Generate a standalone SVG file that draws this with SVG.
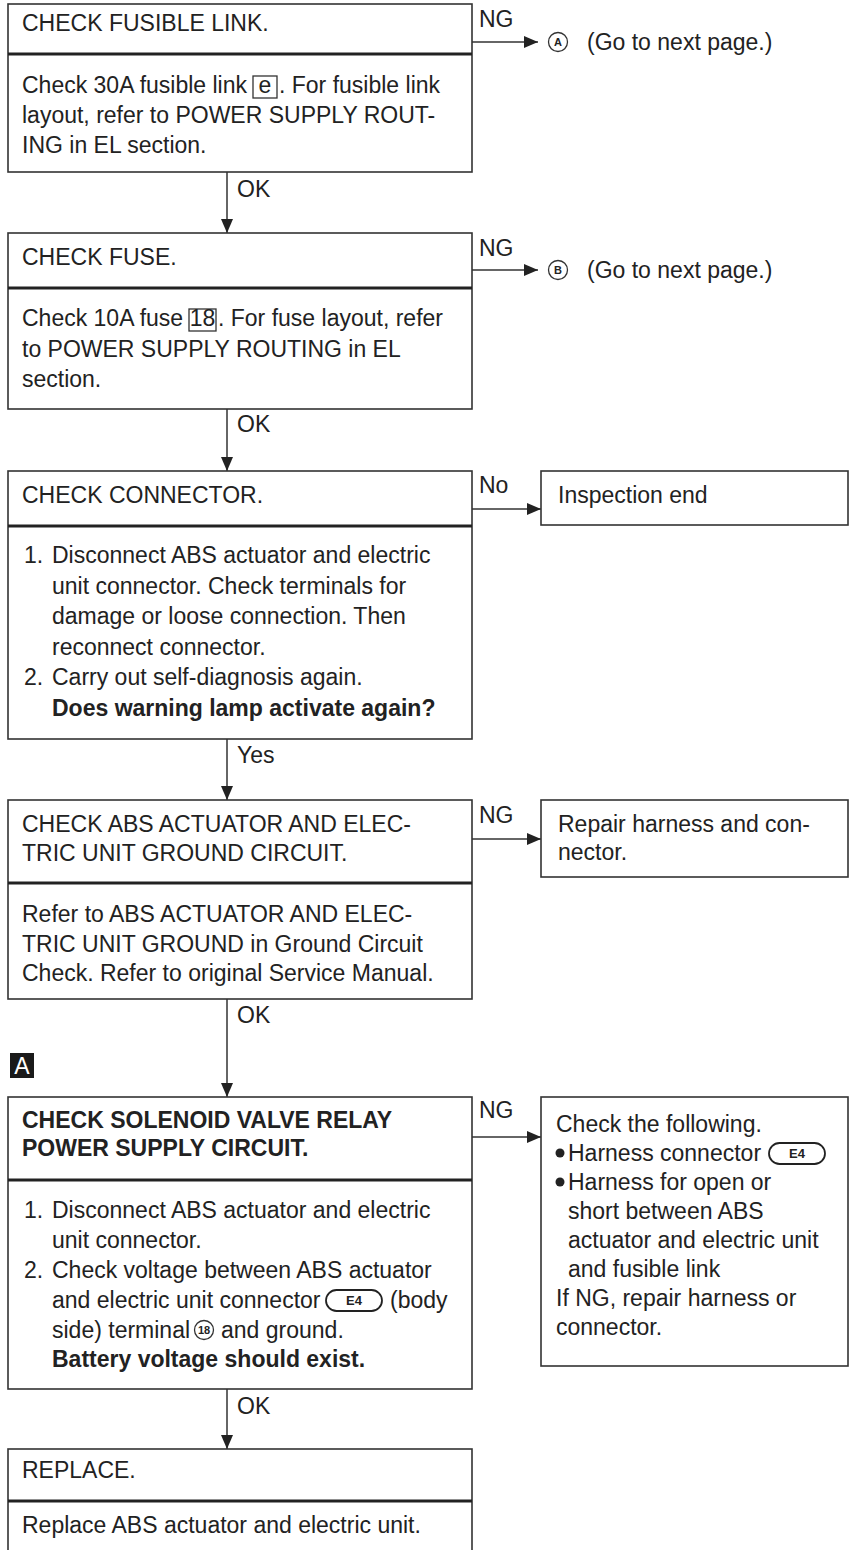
<svg xmlns="http://www.w3.org/2000/svg" width="850" height="1550" viewBox="0 0 850 1550">
<defs>
<style>
text{font-family:"Liberation Sans",Arial,Helvetica,sans-serif;font-size:23px;fill:#222}
.b{font-weight:bold}
.box{fill:#fff;stroke:#333;stroke-width:1.6}
.div{stroke:#222;stroke-width:3}
.ln{stroke:#333;stroke-width:1.5;fill:none}
.thin{fill:none;stroke:#333;stroke-width:1.3}
.pill{fill:none;stroke:#222;stroke-width:1.8}
.sm{font-size:11px;font-weight:bold}
.pl{font-size:13px;font-weight:bold}
.ctr{text-anchor:middle}
</style>
<marker id="ah" markerWidth="14" markerHeight="12" refX="14" refY="6" orient="auto" markerUnits="userSpaceOnUse">
<path d="M0,0 L14,6 L0,12 Z" fill="#222"/>
</marker>
</defs>
<rect width="850" height="1550" fill="#fff"/>

<g id="connectors">
<line class="ln" x1="227" y1="172" x2="227" y2="233" marker-end="url(#ah)"/>
<line class="ln" x1="227" y1="409" x2="227" y2="471" marker-end="url(#ah)"/>
<line class="ln" x1="227" y1="739" x2="227" y2="800" marker-end="url(#ah)"/>
<line class="ln" x1="227" y1="999" x2="227" y2="1097" marker-end="url(#ah)"/>
<line class="ln" x1="227" y1="1389" x2="227" y2="1449" marker-end="url(#ah)"/>
<line class="ln" x1="472" y1="42" x2="538" y2="42" marker-end="url(#ah)"/>
<line class="ln" x1="472" y1="270" x2="538" y2="270" marker-end="url(#ah)"/>
<line class="ln" x1="472" y1="509" x2="541" y2="509" marker-end="url(#ah)"/>
<line class="ln" x1="472" y1="839" x2="541" y2="839" marker-end="url(#ah)"/>
<line class="ln" x1="472" y1="1137" x2="541" y2="1137" marker-end="url(#ah)"/>
<text x="479" y="27">NG</text>
<text x="479" y="256">NG</text>
<text x="479" y="493">No</text>
<text x="479" y="823">NG</text>
<text x="479" y="1118">NG</text>
<text x="237" y="197">OK</text>
<text x="237" y="432">OK</text>
<text x="237" y="763">Yes</text>
<text x="237" y="1023">OK</text>
<text x="237" y="1414">OK</text>
</g>

<g id="goto-a">
<circle class="thin" cx="558" cy="42" r="9.5"/>
<text class="sm ctr" x="558" y="46">A</text>
<text x="587" y="50">(Go to next page.)</text>
</g>
<g id="goto-b">
<circle class="thin" cx="558" cy="270" r="9.5"/>
<text class="sm ctr" x="558" y="274">B</text>
<text x="587" y="278">(Go to next page.)</text>
</g>

<g id="n1">
<rect class="box" x="8" y="4" width="464" height="168"/>
<line class="div" x1="8" y1="54" x2="472" y2="54"/>
<text x="22" y="31">CHECK FUSIBLE LINK.</text>
<text x="22" y="93">Check 30A fusible link</text>
<rect class="thin" x="253" y="76" width="24" height="22"/>
<text class="ctr" x="265" y="93">e</text>
<text x="279" y="93">. For fusible link</text>
<text x="22" y="123">layout, refer to POWER SUPPLY ROUT-</text>
<text x="22" y="153">ING in EL section.</text>
</g>

<g id="n2">
<rect class="box" x="8" y="233" width="464" height="176"/>
<line class="div" x1="8" y1="288" x2="472" y2="288"/>
<text x="22" y="265">CHECK FUSE.</text>
<text x="22" y="326">Check 10A fuse</text>
<rect class="thin" x="189" y="309" width="27" height="22"/>
<text class="ctr" x="202.5" y="326">18</text>
<text x="218" y="326">. For fuse layout, refer</text>
<text x="22" y="357">to POWER SUPPLY ROUTING in EL</text>
<text x="22" y="387">section.</text>
</g>

<g id="n3">
<rect class="box" x="8" y="471" width="464" height="268"/>
<line class="div" x1="8" y1="526" x2="472" y2="526"/>
<text x="22" y="503">CHECK CONNECTOR.</text>
<text x="24" y="563">1.</text>
<text x="52" y="563">Disconnect ABS actuator and electric</text>
<text x="52" y="594">unit connector. Check terminals for</text>
<text x="52" y="624">damage or loose connection. Then</text>
<text x="52" y="655">reconnect connector.</text>
<text x="24" y="685">2.</text>
<text x="52" y="685">Carry out self-diagnosis again.</text>
<text class="b" x="52" y="716">Does warning lamp activate again?</text>
</g>

<g id="n3r">
<rect class="box" x="541" y="471" width="307" height="54"/>
<text x="558" y="503">Inspection end</text>
</g>

<g id="n4">
<rect class="box" x="8" y="800" width="464" height="199"/>
<line class="div" x1="8" y1="883" x2="472" y2="883"/>
<text x="22" y="832">CHECK ABS ACTUATOR AND ELEC-</text>
<text x="22" y="861">TRIC UNIT GROUND CIRCUIT.</text>
<text x="22" y="922">Refer to ABS ACTUATOR AND ELEC-</text>
<text x="22" y="952">TRIC UNIT GROUND in Ground Circuit</text>
<text x="22" y="981">Check. Refer to original Service Manual.</text>
</g>

<g id="n4r">
<rect class="box" x="541" y="800" width="307" height="77"/>
<text x="558" y="832">Repair harness and con-</text>
<text x="558" y="860">nector.</text>
</g>

<g id="markA">
<rect x="10" y="1053" width="24" height="25" fill="#1a1a1a"/>
<text class="ctr" x="22" y="1074" style="fill:#fff">A</text>
</g>

<g id="n5">
<rect class="box" x="8" y="1097" width="464" height="292"/>
<line class="div" x1="8" y1="1180" x2="472" y2="1180"/>
<text class="b" x="22" y="1128">CHECK SOLENOID VALVE RELAY</text>
<text class="b" x="22" y="1156">POWER SUPPLY CIRCUIT.</text>
<text x="24" y="1218">1.</text>
<text x="52" y="1218">Disconnect ABS actuator and electric</text>
<text x="52" y="1248">unit connector.</text>
<text x="24" y="1278">2.</text>
<text x="52" y="1278">Check voltage between ABS actuator</text>
<text x="52" y="1308">and electric unit connector</text>
<rect class="pill" x="326" y="1290" width="56" height="21" rx="10.5"/>
<text class="pl ctr" x="354" y="1305">E4</text>
<text x="390" y="1308">(body</text>
<text x="52" y="1338">side) terminal</text>
<circle class="thin" cx="204" cy="1330" r="9.5"/>
<text class="sm ctr" x="204" y="1334">18</text>
<text x="221" y="1338">and ground.</text>
<text class="b" x="52" y="1367">Battery voltage should exist.</text>
</g>

<g id="n5r">
<rect class="box" x="541" y="1097" width="307" height="269"/>
<text x="556" y="1132">Check the following.</text>
<circle cx="560" cy="1153" r="4.5" fill="#222"/>
<text x="568" y="1161">Harness connector</text>
<rect class="pill" x="769" y="1143" width="56" height="21" rx="10.5"/>
<text class="pl ctr" x="797" y="1158">E4</text>
<circle cx="560" cy="1182" r="4.5" fill="#222"/>
<text x="568" y="1190">Harness for open or</text>
<text x="568" y="1219">short between ABS</text>
<text x="568" y="1248">actuator and electric unit</text>
<text x="568" y="1277">and fusible link</text>
<text x="556" y="1306">If NG, repair harness or</text>
<text x="556" y="1335">connector.</text>
</g>

<g id="n6">
<rect class="box" x="8" y="1449" width="464" height="110"/>
<line class="div" x1="8" y1="1501" x2="472" y2="1501"/>
<text x="22" y="1478">REPLACE.</text>
<text x="22" y="1533">Replace ABS actuator and electric unit.</text>
</g>
</svg>
